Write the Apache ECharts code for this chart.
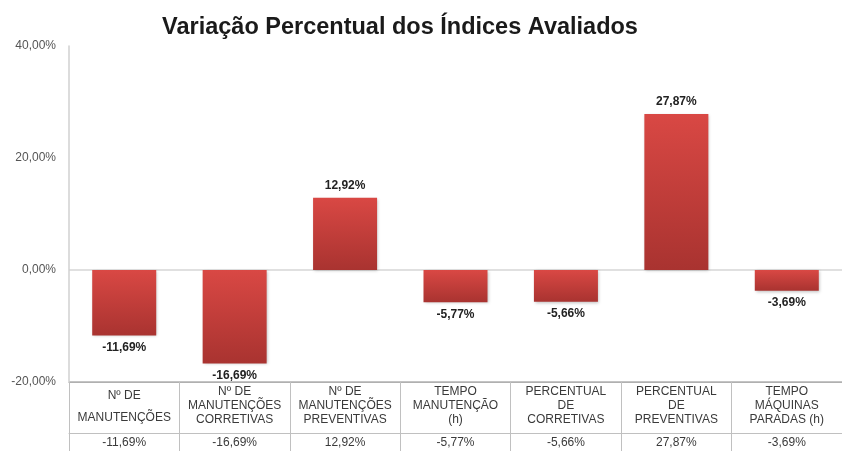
<!DOCTYPE html>
<html>
<head>
<meta charset="utf-8">
<script src="https://cdn.jsdelivr.net/npm/echarts@6/dist/echarts.min.js"></script>
<style>
  html, body { margin: 0; padding: 0; background: #fff; }
  #chart { width: 842px; height: 451px; }
</style>
</head>
<body>
<div id="chart"></div>
<script>
// categories and values
const categories = [
  'Nº DE\nMANUTENÇÕES',
  'Nº DE\nMANUTENÇÕES\nCORRETIVAS',
  'Nº DE\nMANUTENÇÕES\nPREVENTIVAS',
  'TEMPO\nMANUTENÇÃO\n(h)',
  'PERCENTUAL\nDE\nCORRETIVAS',
  'PERCENTUAL\nDE\nPREVENTIVAS',
  'TEMPO\nMÁQUINAS\nPARADAS (h)'
]
const variacao = [-11.69, -16.69, 12.92, -5.77, -5.66, 27.87, -3.69]
const yTicks = [-20, 0, 20, 40]

const fmt = v => v.toFixed(2).replace('.', ',') + '%'
const fontFamily = 'Liberation Sans, Arial, sans-serif'

const chart = echarts.init(document.getElementById('chart'))

const barData = variacao.map(v => ({
  value: v,
  label: { position: v < 0 ? 'bottom' : 'top' }
}))

chart.setOption({
  animation: false,
  title: {
    text: 'Variação Percentual dos Índices Avaliados',
    left: 395,
    textAlign: 'center',
    top: 11,
    textStyle: { fontFamily, fontSize: 23.5, fontWeight: 'bold', color: '#1a1a1a' }
  },
  grid: { left: 69, right: -10, top: 46, bottom: 69 },
  xAxis: [
    {
      type: 'category',
      data: categories,
      position: 'bottom',
      axisLine: { onZero: false, lineStyle: { color: '#b0b0b0' } },
      axisTick: { show: true, length: 69, lineStyle: { color: '#c0c0c0' } },
      axisLabel: {
        interval: 0,
        margin: 3,
        fontFamily,
        fontSize: 12,
        color: '#3a3a3a',
        formatter: v => v.split('\n').length === 2 ? '{two|' + v.split('\n').join('}\n{two|') + '}' : v,
        lineHeight: 14,
        rich: { two: { lineHeight: 22, fontFamily, fontSize: 12, color: '#3a3a3a' } }
      }
    },
    {
      type: 'category',
      data: categories,
      position: 'bottom',
      offset: 51,
      axisLine: { onZero: false, lineStyle: { color: '#c0c0c0' } },
      axisTick: { show: false },
      axisLabel: {
        interval: 0,
        margin: 4,
        fontFamily,
        fontSize: 12,
        color: '#3a3a3a',
        formatter: (v, i) => fmt(variacao[i])
      }
    }
  ],
  yAxis: {
    type: 'value',
    min: yTicks[0],
    max: yTicks[yTicks.length - 1],
    interval: 20,
    axisLine: { show: true, lineStyle: { color: '#d0d0d0', width: 1.5 } },
    axisTick: { show: false },
    axisLabel: {
      margin: 13,
      fontFamily,
      fontSize: 12,
      color: '#555',
      formatter: v => fmt(v)
    },
    splitLine: {
      show: true,
      lineStyle: { color: ['#b0b0b0', '#d6d6d6', 'rgba(0,0,0,0)', 'rgba(0,0,0,0)'], width: 1.5 }
    }
  },
  series: [
    {
      type: 'bar',
      data: barData,
      barWidth: 64,
      itemStyle: {
        color: new echarts.graphic.LinearGradient(0, 0, 0, 1, [
          { offset: 0, color: '#d94844' },
          { offset: 1, color: '#a93330' }
        ]),
        shadowColor: 'rgba(0,0,0,0.25)',
        shadowBlur: 3,
        shadowOffsetX: 1,
        shadowOffsetY: 1
      },
      label: {
        show: true,
        fontFamily,
        fontSize: 12,
        fontWeight: 'bold',
        color: '#222',
        distance: 6,
        formatter: p => fmt(p.value)
      }
    }
  ]
})
</script>
</body>
</html>
